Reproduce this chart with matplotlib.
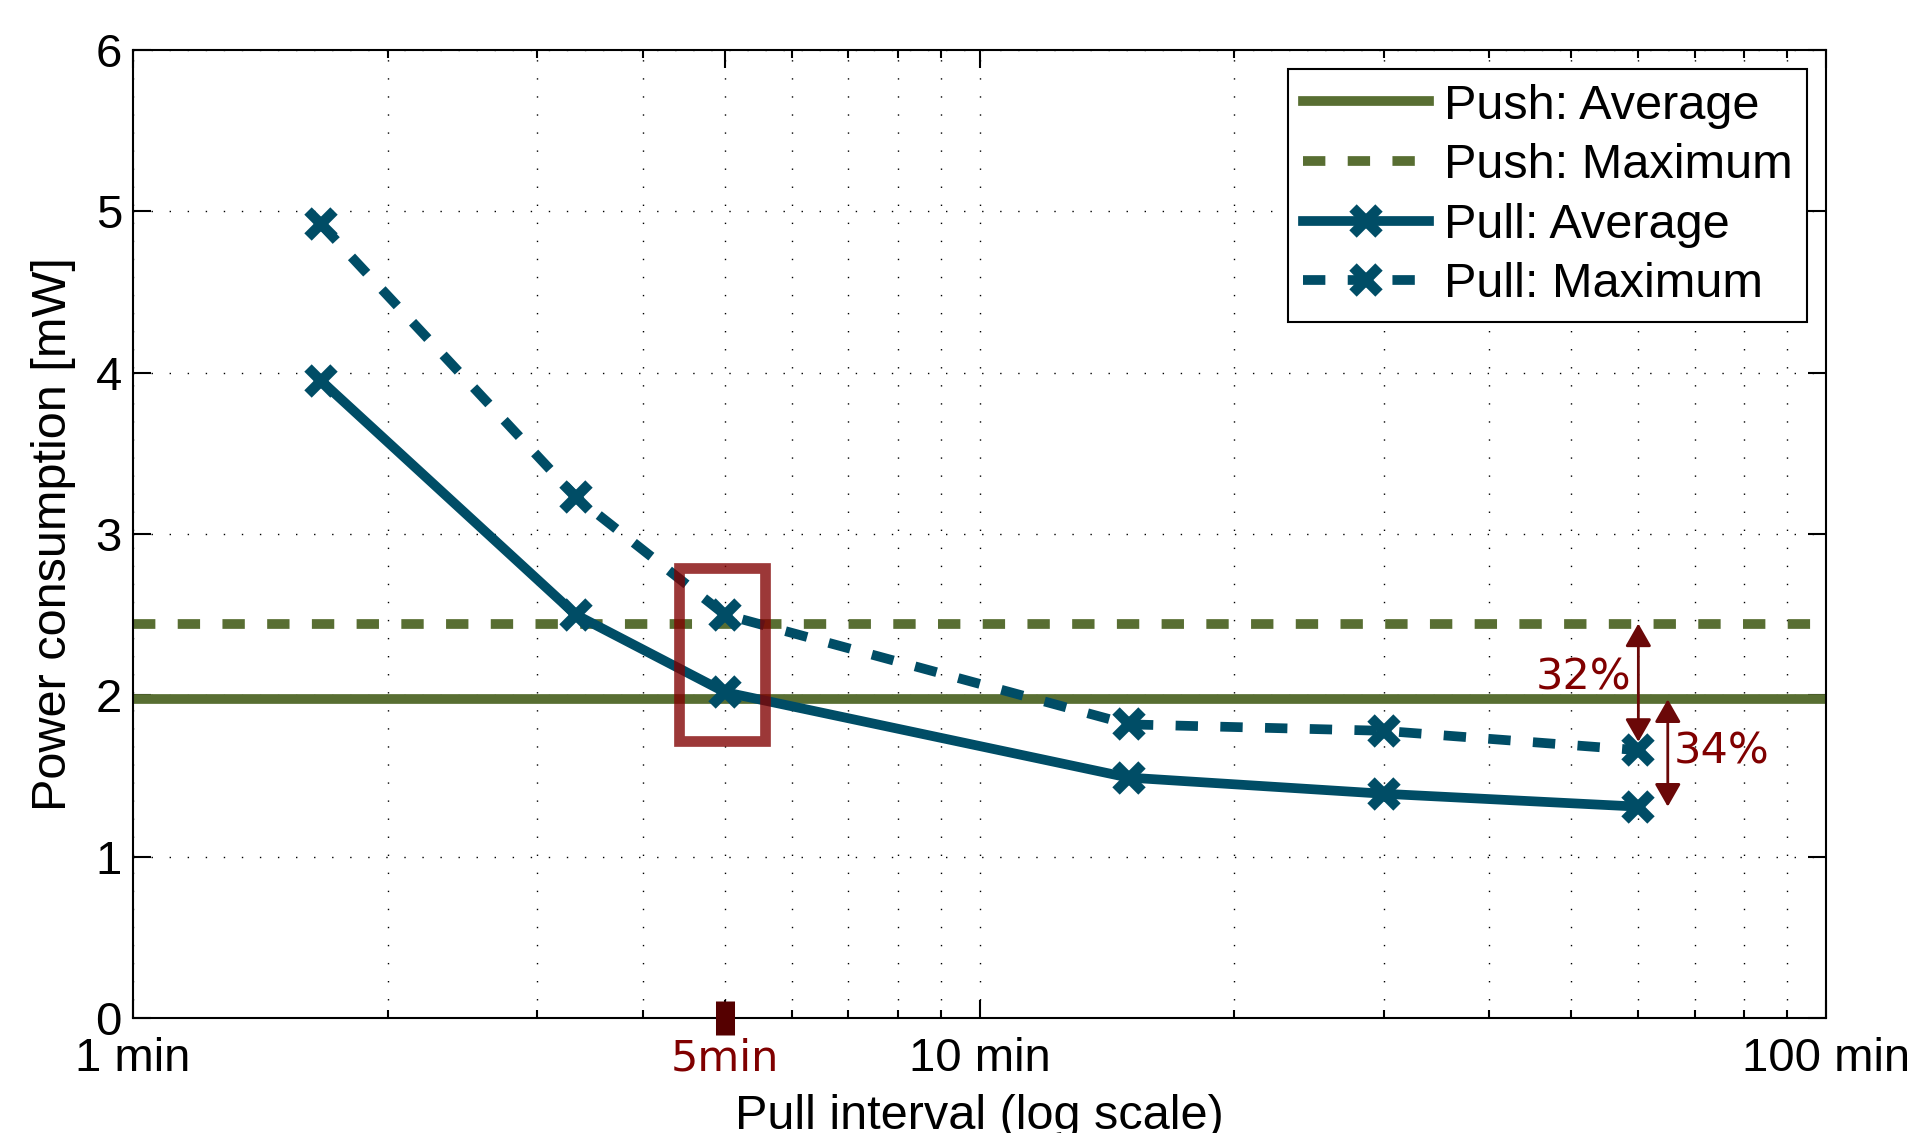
import matplotlib
matplotlib.use("Agg")
import matplotlib.pyplot as plt
from matplotlib.patches import Rectangle
from matplotlib.ticker import FixedLocator, LogLocator, NullFormatter

# pull interval in minutes (100 s, 200 s, 5, 15, 30, 60 min)
pull_interval = [1.667, 3.333, 5, 15, 30, 60]
pull_avg = [3.95, 2.50, 2.02, 1.49, 1.39, 1.31]
pull_max = [4.92, 3.23, 2.50, 1.82, 1.78, 1.66]
push_avg = 1.975
push_max = 2.445

x_ticks = [1, 5, 10, 100]
x_tick_labels = ["1 min", "5min", "10 min", "100 min"]
y_ticks = [0, 1, 2, 3, 4, 5, 6]
series_labels = ["Push: Average", "Push: Maximum", "Pull: Average", "Pull: Maximum"]
gap_labels = ["32%", "34%"]

GREEN = "#586e32"
BLUE = "#004d66"
RED = "#800000"
DARK_RED = "#6b0808"
DASH = (0, (2.3, 2.3))

plt.rcParams["font.family"] = ["Liberation Sans", "DejaVu Sans"]

fig = plt.figure(figsize=(19.15, 11.33), dpi=100)
ax = fig.add_axes([0.0695, 0.1015, 0.8841, 0.8544])

ax.axhline(push_avg, color=GREEN, lw=7, label=series_labels[0], zorder=2)
ax.axhline(push_max, color=GREEN, lw=7, ls=DASH, label=series_labels[1], zorder=2)
ax.plot(pull_interval, pull_avg, color=BLUE, lw=7, marker="x", ms=19, mew=7.5,
        label=series_labels[2], zorder=3)
ax.plot(pull_interval, pull_max, color=BLUE, lw=7, ls=DASH, marker="x", ms=19, mew=7.5,
        label=series_labels[3], zorder=3)

ax.set_xscale("log")
ax.set_xlim(1, 100)
ax.set_ylim(0, 6)
ax.xaxis.set_major_locator(FixedLocator(x_ticks))
ax.set_xticklabels(x_tick_labels)
ax.xaxis.set_minor_locator(LogLocator(base=10, subs=range(2, 10)))
ax.xaxis.set_minor_formatter(NullFormatter())
ax.set_yticks(y_ticks)

ax.tick_params(which="both", direction="in", top=True, right=True, width=1.5, color="black")
ax.tick_params(which="major", length=13, labelsize=34)
ax.tick_params(which="minor", length=6)
ax.tick_params(axis="x", pad=14)
ax.tick_params(axis="y", pad=8)
for sp in ax.spines.values():
    sp.set_linewidth(1.5)

# the 5min label is highlighted
lbl5 = ax.get_xticklabels()[1]
lbl5.set_color(RED)
lbl5.set_fontfamily("DejaVu Sans")
lbl5.set_fontsize(31)

ax.set_axisbelow(True)
ax.grid(True, which="both", axis="x", ls=(0, (1, 12)), color="black", lw=1.0)
ax.grid(True, which="major", axis="y", ls=(0, (1, 12)), color="black", lw=1.0)

# thick marker on the axis at 5 min
ax.plot([5, 5], [-0.105, 0.105], color="#550000", lw=13.7, solid_capstyle="butt",
        clip_on=False, zorder=6)

# box around the 5 min points
ax.add_patch(Rectangle((4.42, 1.715), 5.58 - 4.42, 2.79 - 1.715, fill=False,
                       edgecolor=RED, alpha=0.78, lw=7.7, joinstyle="miter", zorder=5))

arrow = dict(arrowstyle="<|-|>,head_length=0.7,head_width=0.4", color=DARK_RED, lw=2,
             mutation_scale=20)
ax.annotate("", xy=(60, pull_max[-1]), xytext=(60, push_max),
            arrowprops=dict(arrow, shrinkA=0, shrinkB=6), zorder=6)
ax.annotate("", xy=(65, pull_avg[-1]), xytext=(65, push_avg),
            arrowprops=dict(arrow, shrinkA=0, shrinkB=0), zorder=6)
ax.text(58.8, 2.11, gap_labels[0], ha="right", va="center", fontsize=31,
        color=RED, family="DejaVu Sans")
ax.text(66.0, 1.65, gap_labels[1], ha="left", va="center", fontsize=31,
        color=RED, family="DejaVu Sans")

ax.set_xlabel("Pull interval (log scale)", fontsize=35)
ax.xaxis.set_label_coords(0.5, -0.078)
ax.set_ylabel("Power consumption [mW]", fontsize=35)
ax.yaxis.set_label_coords(-0.034, 0.5)

leg = ax.legend(loc="upper right", fontsize=35, frameon=True, fancybox=False,
                edgecolor="black", framealpha=1, borderaxespad=0.39, borderpad=0.3,
                labelspacing=0.3, handlelength=2.6, handletextpad=0.3, numpoints=1)
leg.get_frame().set_linewidth(1.5)

fig.savefig("out.png", dpi=100)
